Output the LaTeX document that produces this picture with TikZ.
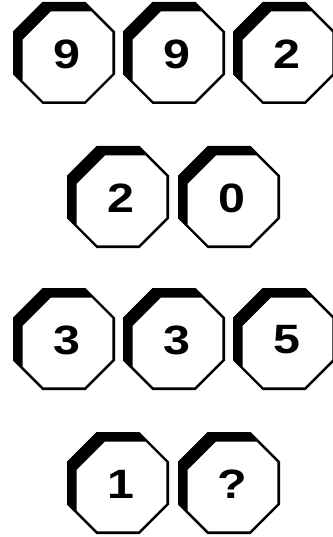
\documentclass[tikz,border=0pt]{standalone}
\usepackage{fontspec}
\newfontfamily\digitfont[FakeStretch=1.18]{Liberation Sans}
\tikzset{
  octouter/.style={fill=black},
  octinner/.style={fill=white},
  digit/.style={font=\digitfont\bfseries\fontsize{41}{41}\selectfont, inner sep=0pt, text=black}
}
\newcommand\octagonbox[4]{%
  \begin{scope}[shift={(#2,#3)}]
    \fill[octouter] (-21.5,-51) -- (21.5,-51) -- (51,-21.5) -- (51,21.5) -- (21.5,51) -- (-21.5,51) -- (-51,21.5) -- (-51,-21.5) -- cycle;
    \fill[octinner] (-13,-41.5) -- (27.3,-41.5) -- (48.4,-20.4) -- (48.4,20.4) -- (20.4,48.4) -- (-20.4,48.4) -- (-41.5,27.3) -- (-41.5,-13) -- cycle;
    \node[digit] (#1) at (3,1) {#4};
  \end{scope}}
\begin{document}
\begin{tikzpicture}[x=1pt,y=-1pt]
  \useasboundingbox (0,0) rectangle (332,537);
  \octagonbox{a1}{64}{53}{9}
  \octagonbox{a2}{174}{53}{9}
  \octagonbox{a3}{284}{53}{2}
  \octagonbox{b1}{118}{197}{2}
  \octagonbox{b2}{229}{197}{0}
  \octagonbox{c1}{64}{339}{3}
  \octagonbox{c2}{174}{339}{3}
  \octagonbox{c3}{284}{339}{5}
  \octagonbox{d1}{118}{483}{1}
  \octagonbox{d2}{229}{483}{?}
\end{tikzpicture}
\end{document}
